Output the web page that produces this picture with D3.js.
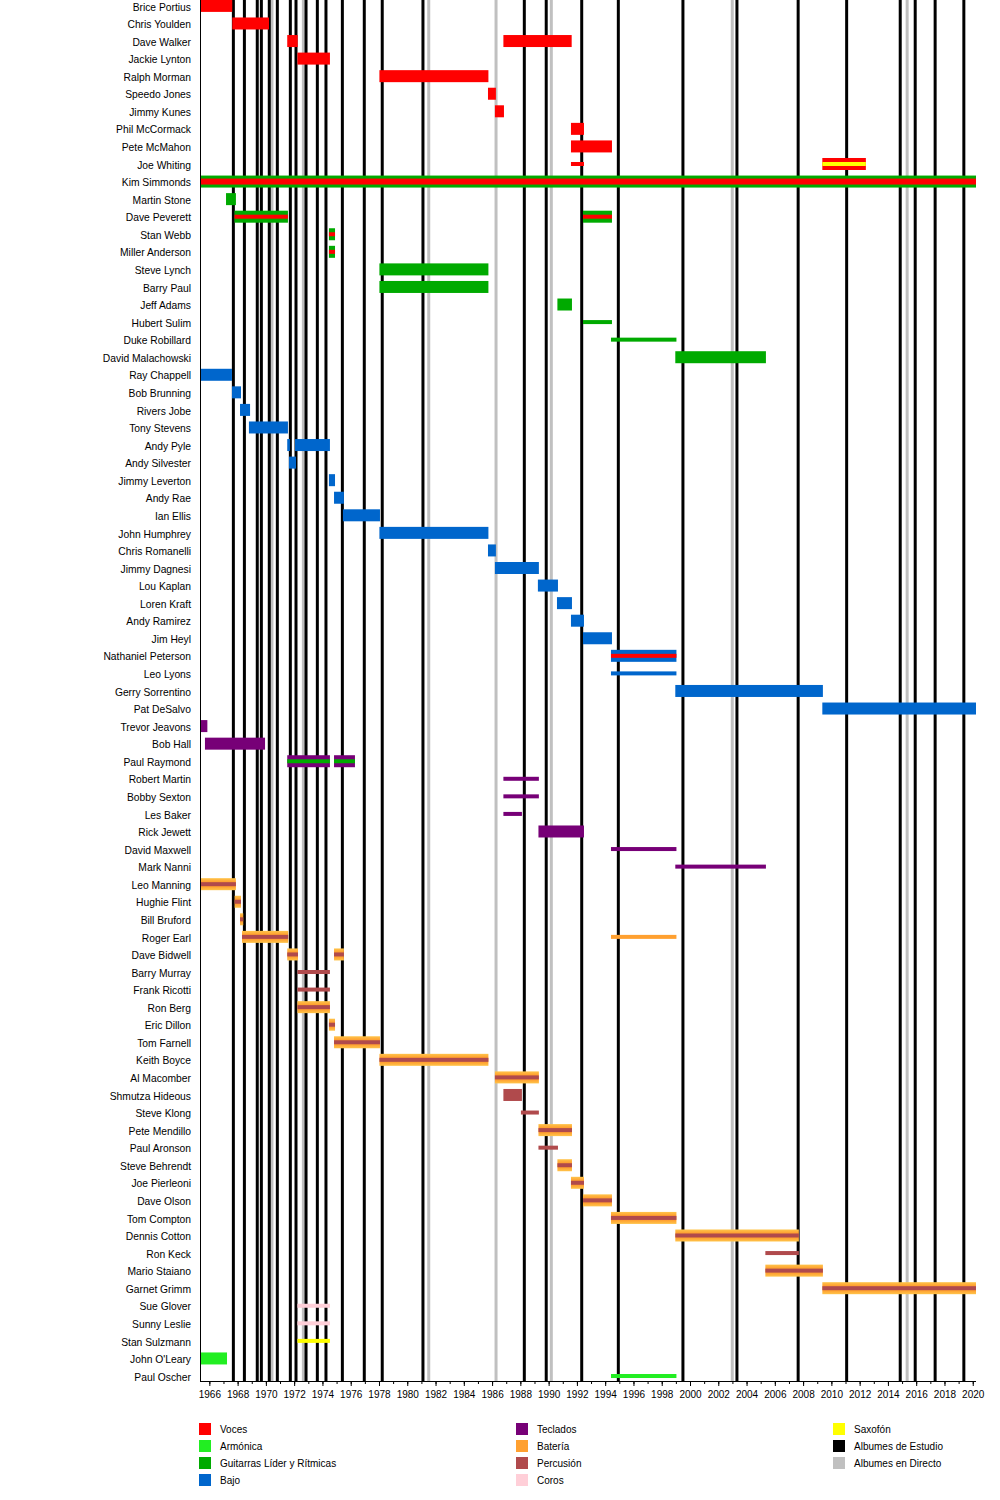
<!DOCTYPE html>
<html>
<head>
<meta charset="utf-8">
<script src="https://cdn.jsdelivr.net/npm/d3@7/dist/d3.min.js"></script>
<style>
  html, body { margin: 0; padding: 0; background: #fff; }
  svg { display: block; font-family: "Liberation Sans", Arial, sans-serif; }
</style>
</head>
<body>
<svg id="chart" width="1000" height="1500"></svg>
<script>
// ---------------- DATA ----------------
const members = [
  "Brice Portius","Chris Youlden","Dave Walker","Jackie Lynton","Ralph Morman","Speedo Jones",
  "Jimmy Kunes","Phil McCormack","Pete McMahon","Joe Whiting","Kim Simmonds","Martin Stone",
  "Dave Peverett","Stan Webb","Miller Anderson","Steve Lynch","Barry Paul","Jeff Adams",
  "Hubert Sulim","Duke Robillard","David Malachowski","Ray Chappell","Bob Brunning","Rivers Jobe",
  "Tony Stevens","Andy Pyle","Andy Silvester","Jimmy Leverton","Andy Rae","Ian Ellis",
  "John Humphrey","Chris Romanelli","Jimmy Dagnesi","Lou Kaplan","Loren Kraft","Andy Ramirez",
  "Jim Heyl","Nathaniel Peterson","Leo Lyons","Gerry Sorrentino","Pat DeSalvo","Trevor Jeavons",
  "Bob Hall","Paul Raymond","Robert Martin","Bobby Sexton","Les Baker","Rick Jewett",
  "David Maxwell","Mark Nanni","Leo Manning","Hughie Flint","Bill Bruford","Roger Earl",
  "Dave Bidwell","Barry Murray","Frank Ricotti","Ron Berg","Eric Dillon","Tom Farnell",
  "Keith Boyce","Al Macomber","Shmutza Hideous","Steve Klong","Pete Mendillo","Paul Aronson",
  "Steve Behrendt","Joe Pierleoni","Dave Olson","Tom Compton","Dennis Cotton","Ron Keck",
  "Mario Staiano","Garnet Grimm","Sue Glover","Sunny Leslie","Stan Sulzmann","John O'Leary",
  "Paul Oscher"
];

const roles = ["Voces","Armónica","Guitarras Líder y Rítmicas","Bajo","Teclados","Batería",
               "Percusión","Coros","Saxofón","Albumes de Estudio","Albumes en Directo"];
const roleColors = ["#ff0000","#22ee22","#00aa00","#0066cc","#770077","#ffa030",
                    "#b04a4c","#ffcfd8","#ffff00","#000000","#c0c0c0"];

const periodStart = 1965.41, periodEnd = 2020.23;
const tickYears = d3.range(1966, 2021, 2);
const minorTickYears = d3.range(1966, 2021, 1);

// [member, from, to, role, secondRole, minor]
const vocalSpans = [
  ["Brice Portius", 1965.41, 1967.62, "Voces", null, false],
  ["Chris Youlden", 1967.62, 1970.22, "Voces", null, false],
  ["Dave Walker", 1971.51, 1972.25, "Voces", null, false],
  ["Dave Walker", 1986.80, 1991.63, "Voces", null, false],
  ["Jackie Lynton", 1972.23, 1974.53, "Voces", null, false],
  ["Ralph Morman", 1978.03, 1985.74, "Voces", null, false],
  ["Speedo Jones", 1985.71, 1986.27, "Voces", null, false],
  ["Jimmy Kunes", 1986.20, 1986.84, "Voces", null, false],
  ["Phil McCormack", 1991.58, 1992.50, "Voces", null, false],
  ["Pete McMahon", 1991.58, 1994.48, "Voces", null, false],
  ["Joe Whiting", 1991.58, 1992.50, "Voces", null, true],
  ["Joe Whiting", 2009.36, 2012.44, "Voces", "Saxofón", false]
];
const guitarSpans = [
  ["Kim Simmonds", 1965.41, 2020.23, "Guitarras Líder y Rítmicas", "Voces", false],
  ["Martin Stone", 1967.18, 1967.88, "Guitarras Líder y Rítmicas", null, false],
  ["Dave Peverett", 1967.78, 1971.56, "Guitarras Líder y Rítmicas", "Voces", false],
  ["Dave Peverett", 1992.43, 1994.48, "Guitarras Líder y Rítmicas", "Voces", false],
  ["Stan Webb", 1974.46, 1974.89, "Guitarras Líder y Rítmicas", "Voces", false],
  ["Miller Anderson", 1974.46, 1974.89, "Guitarras Líder y Rítmicas", "Voces", false],
  ["Steve Lynch", 1978.03, 1985.74, "Guitarras Líder y Rítmicas", null, false],
  ["Barry Paul", 1978.03, 1985.74, "Guitarras Líder y Rítmicas", null, false],
  ["Jeff Adams", 1990.62, 1991.65, "Guitarras Líder y Rítmicas", null, false],
  ["Hubert Sulim", 1992.43, 1994.48, "Guitarras Líder y Rítmicas", null, true],
  ["Duke Robillard", 1994.41, 1999.04, "Guitarras Líder y Rítmicas", null, true],
  ["David Malachowski", 1998.96, 2005.37, "Guitarras Líder y Rítmicas", null, false]
];
const bassSpans = [
  ["Ray Chappell", 1965.41, 1967.60, "Bajo", null, false],
  ["Bob Brunning", 1967.60, 1968.24, "Bajo", null, false],
  ["Rivers Jobe", 1968.17, 1968.88, "Bajo", null, false],
  ["Tony Stevens", 1968.80, 1971.56, "Bajo", null, false],
  ["Andy Pyle", 1971.51, 1971.70, "Bajo", null, false],
  ["Andy Pyle", 1972.06, 1974.53, "Bajo", null, false],
  ["Andy Silvester", 1971.63, 1972.13, "Bajo", null, false],
  ["Jimmy Leverton", 1974.46, 1974.89, "Bajo", null, false],
  ["Andy Rae", 1974.82, 1975.52, "Bajo", null, false],
  ["Ian Ellis", 1975.45, 1978.07, "Bajo", null, false],
  ["John Humphrey", 1978.03, 1985.74, "Bajo", null, false],
  ["Chris Romanelli", 1985.71, 1986.27, "Bajo", null, false],
  ["Jimmy Dagnesi", 1986.20, 1989.31, "Bajo", null, false],
  ["Lou Kaplan", 1989.24, 1990.66, "Bajo", null, false],
  ["Loren Kraft", 1990.59, 1991.65, "Bajo", null, false],
  ["Andy Ramirez", 1991.58, 1992.50, "Bajo", null, false],
  ["Jim Heyl", 1992.43, 1994.48, "Bajo", null, false],
  ["Nathaniel Peterson", 1994.41, 1999.04, "Bajo", "Voces", false],
  ["Leo Lyons", 1994.41, 1999.04, "Bajo", null, true],
  ["Gerry Sorrentino", 1998.96, 2009.40, "Bajo", null, false],
  ["Pat DeSalvo", 2009.36, 2020.23, "Bajo", null, false]
];
const keyboardSpans = [
  ["Trevor Jeavons", 1965.41, 1965.86, "Teclados", null, false],
  ["Bob Hall", 1965.69, 1969.94, "Teclados", null, false],
  ["Paul Raymond", 1971.51, 1974.53, "Teclados", "Guitarras Líder y Rítmicas", false],
  ["Paul Raymond", 1974.82, 1976.30, "Teclados", "Guitarras Líder y Rítmicas", false],
  ["Robert Martin", 1986.80, 1989.31, "Teclados", null, true],
  ["Bobby Sexton", 1986.80, 1989.31, "Teclados", null, true],
  ["Les Baker", 1986.80, 1988.11, "Teclados", null, true],
  ["Rick Jewett", 1989.28, 1992.50, "Teclados", null, false],
  ["David Maxwell", 1994.41, 1999.04, "Teclados", null, true],
  ["Mark Nanni", 1998.96, 2005.37, "Teclados", null, true]
];
const drumSpans = [
  ["Leo Manning", 1965.41, 1967.88, "Batería", "Percusión", false],
  ["Hughie Flint", 1967.79, 1968.24, "Batería", "Percusión", false],
  ["Bill Bruford", 1968.17, 1968.40, "Batería", "Percusión", false],
  ["Roger Earl", 1968.31, 1971.58, "Batería", "Percusión", false],
  ["Roger Earl", 1994.41, 1999.04, "Batería", null, true],
  ["Dave Bidwell", 1971.51, 1972.27, "Batería", "Percusión", false],
  ["Dave Bidwell", 1974.82, 1975.52, "Batería", "Percusión", false],
  ["Ron Berg", 1972.23, 1974.53, "Batería", "Percusión", false],
  ["Eric Dillon", 1974.46, 1974.89, "Batería", "Percusión", false],
  ["Tom Farnell", 1974.82, 1978.07, "Batería", "Percusión", false],
  ["Keith Boyce", 1978.03, 1985.74, "Batería", "Percusión", false],
  ["Al Macomber", 1986.20, 1989.31, "Batería", "Percusión", false],
  ["Pete Mendillo", 1989.28, 1991.65, "Batería", "Percusión", false],
  ["Steve Behrendt", 1990.62, 1991.65, "Batería", "Percusión", false],
  ["Joe Pierleoni", 1991.58, 1992.50, "Batería", "Percusión", false],
  ["Dave Olson", 1992.43, 1994.48, "Batería", "Percusión", false],
  ["Tom Compton", 1994.41, 1999.04, "Batería", "Percusión", false],
  ["Dennis Cotton", 1998.96, 2007.70, "Batería", "Percusión", false],
  ["Mario Staiano", 2005.33, 2009.40, "Batería", "Percusión", false],
  ["Garnet Grimm", 2009.36, 2020.23, "Batería", "Percusión", false]
];
const otherSpans = [
  ["Barry Murray", 1972.23, 1974.53, "Percusión", null, true],
  ["Frank Ricotti", 1972.23, 1974.53, "Percusión", null, true],
  ["Shmutza Hideous", 1986.80, 1988.11, "Percusión", null, false],
  ["Steve Klong", 1988.04, 1989.31, "Percusión", null, true],
  ["Paul Aronson", 1989.28, 1990.66, "Percusión", null, true],
  ["Ron Keck", 2005.33, 2007.70, "Percusión", null, true],
  ["Sue Glover", 1972.23, 1974.53, "Coros", null, true],
  ["Sunny Leslie", 1972.23, 1974.53, "Coros", null, true],
  ["Stan Sulzmann", 1972.23, 1974.53, "Saxofón", null, true],
  ["John O'Leary", 1965.41, 1967.25, "Armónica", null, false],
  ["Paul Oscher", 1994.41, 1999.04, "Armónica", null, true]
];

const studioAlbums = [1967.70, 1968.48, 1969.39, 1969.68, 1970.24, 1970.81, 1971.73, 1972.13,
  1972.84, 1973.64, 1974.25, 1975.41, 1976.96, 1978.23, 1981.11, 1988.28, 1989.83, 1992.34,
  1994.93, 1999.50, 2003.32, 2007.65, 2011.08, 2014.87, 2015.93, 2017.34, 2019.37];
const liveAlbums = [1970.43, 1972.65, 1981.52, 1986.28, 1990.19, 2002.99, 2015.36];

// ---------------- DRAWING ----------------
const svg = d3.select("#chart");
const left = 201, right = 976, axisY = 1381;

const x = d3.scaleLinear().domain([periodStart, periodEnd]).range([left, right]);
const y = d3.scaleBand().domain(members).range([-2.88, 1384.8]).padding(0);
const color = d3.scaleOrdinal().domain(roles).range(roleColors);

const defs = svg.append("defs");
const grad = defs.append("linearGradient").attr("id", "drumGrad")
  .attr("x1", 0).attr("y1", 0).attr("x2", 0).attr("y2", 1);
grad.append("stop").attr("offset", "0%").attr("stop-color", "#ffc44a");
grad.append("stop").attr("offset", "30%").attr("stop-color", "#ffa030");
grad.append("stop").attr("offset", "70%").attr("stop-color", "#ffa030");
grad.append("stop").attr("offset", "100%").attr("stop-color", "#ffc44a");

// album lines
const gLines = svg.append("g");
gLines.selectAll("line.live").data(liveAlbums).join("line")
  .attr("class", "live")
  .attr("x1", d => x(d)).attr("x2", d => x(d))
  .attr("y1", 0).attr("y2", axisY)
  .attr("stroke", color("Albumes en Directo")).attr("stroke-width", 3);
gLines.selectAll("line.studio").data(studioAlbums).join("line")
  .attr("class", "studio")
  .attr("x1", d => x(d)).attr("x2", d => x(d))
  .attr("y1", 0).attr("y2", axisY)
  .attr("stroke", color("Albumes de Estudio")).attr("stroke-width", 3);

// bars
const spans = [].concat(vocalSpans, guitarSpans, bassSpans, keyboardSpans, drumSpans, otherSpans)
  .map(([member, from, to, role, second, minor]) => ({member, from, to, role, second, minor}));

const gBars = svg.append("g");
spans.forEach(d => {
  const cy = y(d.member) + y.bandwidth() / 2;
  const h = d.minor ? 4 : 12;
  const x0 = x(d.from), w = Math.max(1, x(d.to) - x(d.from));
  gBars.append("rect")
    .attr("x", x0).attr("y", cy - h / 2)
    .attr("width", w).attr("height", h)
    .attr("fill", d.role === "Batería" && !d.minor ? "url(#drumGrad)" : color(d.role));
  if (d.second) {
    const sh = d.member === "Kim Simmonds" ? 6 : 4;
    gBars.append("rect")
      .attr("x", x0).attr("y", cy - sh / 2)
      .attr("width", w).attr("height", sh)
      .attr("fill", color(d.second));
  }
});

// member labels
svg.append("g").selectAll("text").data(members).join("text")
  .attr("x", 191)
  .attr("y", d => y(d) + y.bandwidth() / 2)
  .attr("dy", "0.45em")
  .attr("text-anchor", "end")
  .attr("font-size", "10.3px")
  .attr("fill", "#000")
  .text(d => d);

// left axis line
svg.append("line").attr("x1", 200.5).attr("x2", 200.5).attr("y1", 0).attr("y2", axisY)
  .attr("stroke", "#000").attr("stroke-width", 1);

// bottom axis
const axisG = svg.append("g").attr("transform", `translate(0,${axisY})`);
axisG.append("g")
  .call(d3.axisBottom(x).tickValues(minorTickYears).tickSize(3).tickFormat(""))
  .call(g => g.select(".domain").remove());
axisG.append("g")
  .call(d3.axisBottom(x).tickValues(tickYears).tickSize(5).tickPadding(5).tickFormat(d3.format("d")))
  .call(g => g.select(".domain").remove())
  .call(g => g.selectAll("text").attr("font-size", "10px").attr("font-family", "'Liberation Sans', Arial, sans-serif").attr("fill", "#000"));
axisG.append("line").attr("x1", 200).attr("x2", right).attr("y1", 0.5).attr("y2", 0.5)
  .attr("stroke", "#000");

// legend
const legendCols = [199, 516, 833];
const legendTextOffset = 21;
const legendTop = 1423, legendStep = 17;
const legendItems = roles.map((r, i) => ({
  role: r,
  col: i < 4 ? 0 : (i < 8 ? 1 : 2),
  row: i < 4 ? i : (i < 8 ? i - 4 : i - 8)
}));
const lg = svg.append("g");
legendItems.forEach(d => {
  const lx = legendCols[d.col], ly = legendTop + d.row * legendStep;
  lg.append("rect").attr("x", lx).attr("y", ly).attr("width", 12).attr("height", 12)
    .attr("fill", color(d.role));
  lg.append("text").attr("x", lx + legendTextOffset).attr("y", ly + 6).attr("dy", "0.4em")
    .attr("font-size", "10px").attr("fill", "#000").text(d.role);
});
</script>
</body>
</html>
